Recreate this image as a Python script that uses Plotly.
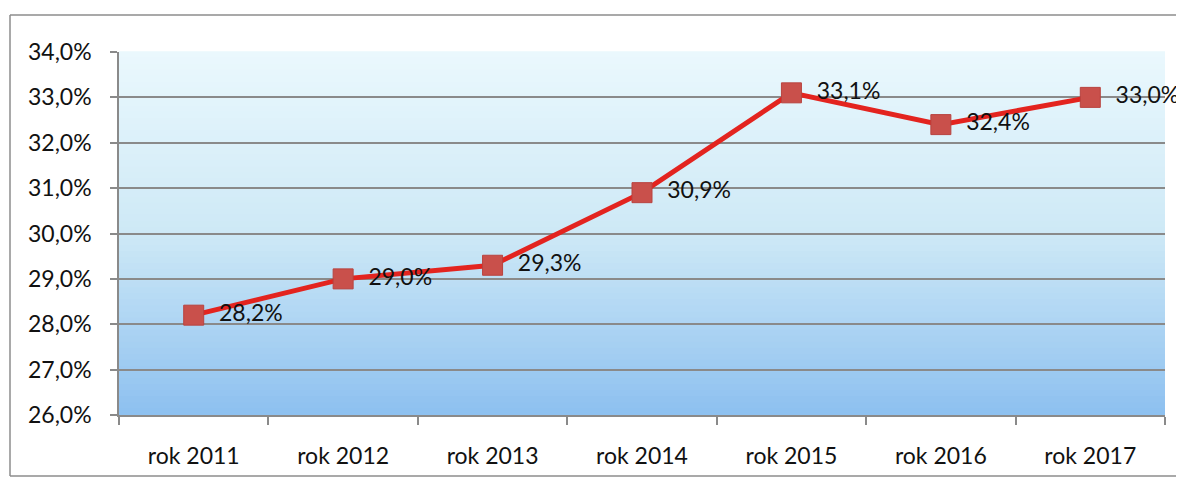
import plotly.graph_objects as go

categories = ["rok 2011", "rok 2012", "rok 2013", "rok 2014", "rok 2015", "rok 2016", "rok 2017"]
values = [28.2, 29.0, 29.3, 30.9, 33.1, 32.4, 33.0]
y_ticks = [26, 27, 28, 29, 30, 31, 32, 33, 34]

# page body has an 8px margin; figure coords = screen coords - 8
OFF = 8
W, H = 1184 - OFF, 484 - OFF
L, R, T, B = 119 - OFF, 19, 52 - OFF, 69
PW, PH = W - L - R, H - T - B

FONT = "Lato"

def fmt(v):
    return f"{v:.1f}".replace(".", ",") + "%"

fig = go.Figure()
fig.add_trace(go.Scatter(
    x=categories, y=values,
    mode="lines+markers+text",
    line=dict(color="#e3241f", width=5),
    marker=dict(symbol="square", size=20, color="#c9504b",
                line=dict(color="#b8433f", width=1)),
    text=["  " + fmt(v) for v in values],
    textposition="middle right",
    textfont=dict(family=FONT, size=23, color="#111111"),
    cliponaxis=False,
    showlegend=False,
))

# gradient plot background
shapes = []
N = 60
stops = [(0.0, (234, 248, 253)), (0.5, (206, 233, 246)), (1.0, (141, 192, 240))]
def col(t):
    for (t0, c0), (t1, c1) in zip(stops[:-1], stops[1:]):
        if t <= t1:
            f = (t - t0) / (t1 - t0)
            return "rgb(%d,%d,%d)" % tuple(round(a + (b - a) * f) for a, b in zip(c0, c1))
    return "rgb(%d,%d,%d)" % stops[-1][1]
for i in range(N):
    t = (i + 0.5) / N  # from top
    shapes.append(dict(type="rect", xref="x domain", yref="y domain",
                       x0=0, x1=1, y0=1 - (i + 1) / N - 0.002, y1=1 - i / N + 0.002,
                       fillcolor=col(t), line=dict(width=0), layer="below"))

def px(x):
    return (x - OFF - L) / PW
def py(y):
    return (H - B - (y - OFF)) / PH

border = "#8c8c8c"
shapes += [
    dict(type="line", xref="paper", yref="paper", x0=px(10), x1=px(10), y0=py(15), y1=py(476),
         line=dict(color=border, width=1.5)),
    dict(type="line", xref="paper", yref="paper", x0=px(10), x1=px(1200), y0=py(15), y1=py(15),
         line=dict(color=border, width=1.5)),
    dict(type="line", xref="paper", yref="paper", x0=px(10), x1=px(1200), y0=py(476), y1=py(476),
         line=dict(color=border, width=1.5)),
]

fig.update_layout(
    width=W, height=H,
    margin=dict(l=L, r=R, t=T, b=B),
    paper_bgcolor="white",
    plot_bgcolor="rgba(0,0,0,0)",
    separators=", ",
    font=dict(family=FONT, size=23, color="#111111"),
    shapes=shapes,
    xaxis=dict(
        type="category", range=[-0.5, 6.5],
        showgrid=False, showline=True, linecolor="#8a8a8a", linewidth=1.5,
        ticks="outside", tickson="boundaries", ticklen=8, tickcolor="#8a8a8a", tickwidth=1.5,
        ticklabelstandoff=20,
        tickfont=dict(family=FONT, size=23, color="#111111"),
    ),
    yaxis=dict(
        range=[26, 34], tickvals=y_ticks, ticktext=[fmt(v) for v in y_ticks],
        showgrid=True, gridcolor="#8a8a8a", gridwidth=1.5,
        showline=True, linecolor="#8a8a8a", linewidth=1.5,
        ticks="outside", ticklen=7, tickcolor="#8a8a8a", tickwidth=1.5,
        ticklabelstandoff=14,
        tickfont=dict(family=FONT, size=23, color="#111111"),
        zeroline=False,
    ),
)

fig.write_html("out.html")
